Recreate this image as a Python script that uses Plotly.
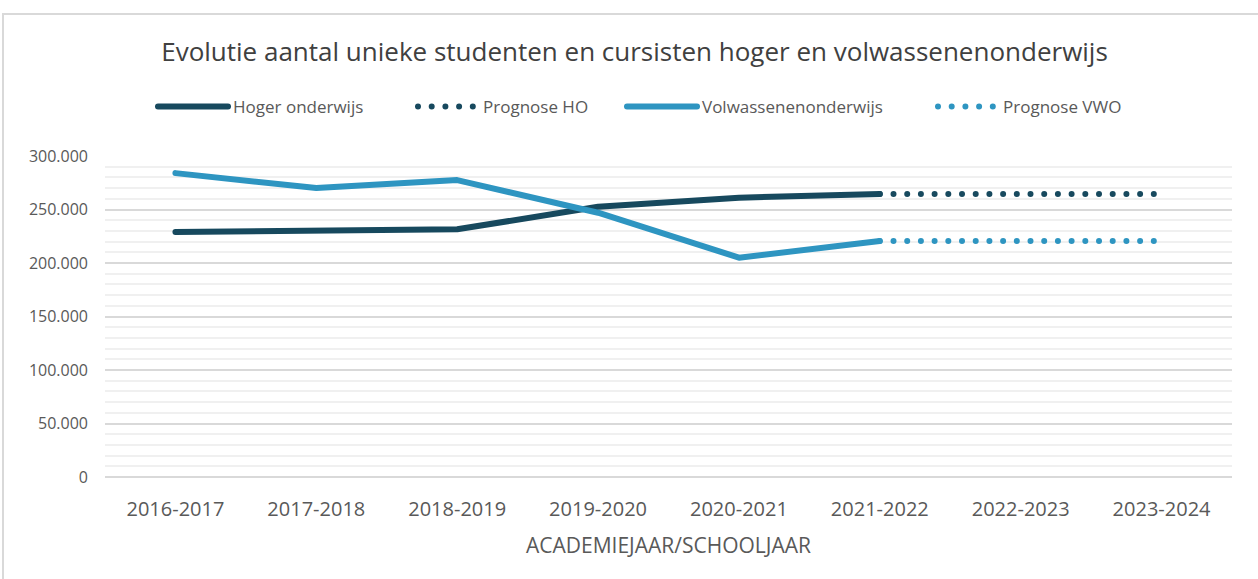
import plotly.graph_objects as go

years = ["2016-2017", "2017-2018", "2018-2019", "2019-2020", "2020-2021",
         "2021-2022", "2022-2023", "2023-2024"]
hoger = [229000, 230500, 231500, 252500, 261000, 264500]
vwo = [284000, 270000, 277500, 247000, 205000, 220500]
prog_years = ["2021-2022", "2022-2023", "2023-2024"]
prog_ho = [264500, 264500, 264500]
prog_vwo = [220500, 220500, 220500]

DARK = "#17495e"
LIGHT = "#2e95c1"
FONT = "Open Sans"

W, H = 1258, 579
L, R, T, B = 105, 26, 156, 102
pw, ph = W - L - R, H - T - B


def px_x(p):
    return (p - L) / pw


def px_y(p):
    return (H - B - p) / ph


fig = go.Figure()
fig.add_trace(go.Scatter(x=years[:6], y=hoger, mode="lines", name="Hoger onderwijs",
                         line=dict(color=DARK, width=6), legend="legend"))
fig.add_trace(go.Scatter(x=prog_years, y=prog_ho, mode="lines", name="Prognose HO",
                         line=dict(color=DARK, width=6, dash="6px,7.7px"), legend="legend2"))
fig.add_trace(go.Scatter(x=years[:6], y=vwo, mode="lines", name="Volwassenenonderwijs",
                         line=dict(color=LIGHT, width=6), legend="legend3"))
fig.add_trace(go.Scatter(x=prog_years, y=prog_vwo, mode="lines", name="Prognose VWO",
                         line=dict(color=LIGHT, width=6, dash="6px,7.7px"), legend="legend4"))

fig.add_shape(type="rect", xref="paper", yref="paper",
              x0=px_x(3), x1=px_x(1300), y0=px_y(14), y1=px_y(620),
              line=dict(color="#d9d9d9", width=2), layer="below")

fig.add_annotation(text="ACADEMIEJAAR/SCHOOLJAAR", xref="paper", yref="paper",
                   x=0.5, y=px_y(545), xanchor="center", yanchor="middle",
                   showarrow=False, font=dict(size=21, color="#595959", family=FONT))

leg_common = dict(orientation="h", xanchor="left", yanchor="middle", y=px_y(107),
                  font=dict(size=17, color="#595959", family=FONT),
                  bgcolor="rgba(0,0,0,0)")

fig.update_layout(
    width=W, height=H,
    margin=dict(l=L, r=R, t=T, b=B),
    paper_bgcolor="white", plot_bgcolor="white",
    separators=",.",
    font=dict(family=FONT, color="#595959"),
    title=dict(text="Evolutie aantal unieke studenten en cursisten hoger en volwassenenonderwijs",
               x=634.5 / W, xref="container", xanchor="center",
               y=1 - 52 / H, yanchor="middle",
               font=dict(size=26, color="#404040", family=FONT)),
    legend=dict(x=px_x(153), itemwidth=70, **leg_common),
    legend2=dict(x=px_x(413), itemwidth=60, **leg_common),
    legend3=dict(x=px_x(622), itemwidth=70, **leg_common),
    legend4=dict(x=px_x(933), itemwidth=60, **leg_common),
    showlegend=True,
)
fig.update_xaxes(type="category", categoryarray=years, categoryorder="array",
                 range=[-0.5, 7.5], showgrid=False, showline=False, zeroline=False,
                 ticks="", ticklabelstandoff=18,
                 tickfont=dict(size=20, color="#595959"))
fig.update_yaxes(range=[0, 300000], dtick=50000, tickformat=",d",
                 showgrid=True, gridcolor="#d9d9d9", gridwidth=2,
                 zeroline=True, zerolinecolor="#d9d9d9", zerolinewidth=2,
                 showline=False, ticks="", ticklabelstandoff=16,
                 tickfont=dict(size=16, color="#595959"),
                 minor=dict(dtick=10000, showgrid=True, gridcolor="#f0f0f0", gridwidth=2))

post = """
document.body.style.margin = '0';
var gd = document.getElementById('{plot_id}');
gd.querySelectorAll('path.js-line, g.legendlines path').forEach(function(p) {
  p.style.strokeLinecap = 'round';
  p.style.strokeLinejoin = 'round';
  var d = p.style.strokeDasharray;
  if (d && d !== 'none' && d !== '') {
    p.style.strokeDasharray = '0px,13.7px';
  }
});
"""

fig.write_html("out.html", post_script=post, config={"displayModeBar": False})
